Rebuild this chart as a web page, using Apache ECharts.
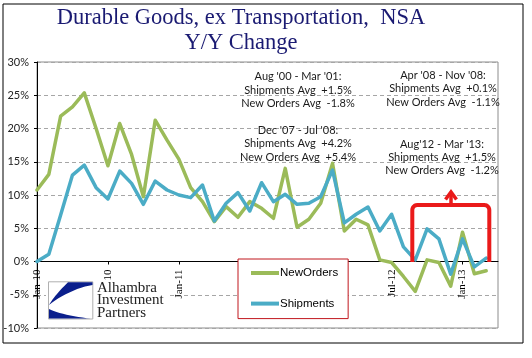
<!DOCTYPE html>
<html><head><meta charset="utf-8">
<script src="https://cdn.jsdelivr.net/npm/echarts@6/dist/echarts.min.js"></script>
<style>html,body{margin:0;padding:0;background:#fff}#c{width:532px;height:358px}</style>
</head><body><div id="c"></div>
<script>
const categories = ['Jan-10','Feb-10','Mar-10','Apr-10','May-10','Jun-10','Jul-10','Aug-10','Sep-10','Oct-10','Nov-10','Dec-10',
  'Jan-11','Feb-11','Mar-11','Apr-11','May-11','Jun-11','Jul-11','Aug-11','Sep-11','Oct-11','Nov-11','Dec-11',
  'Jan-12','Feb-12','Mar-12','Apr-12','May-12','Jun-12','Jul-12','Aug-12','Sep-12','Oct-12','Nov-12','Dec-12',
  'Jan-13','Feb-13','Mar-13','Apr-13'];
const newOrders = [10.75,13.1,21.85,23.25,25.35,20.0,14.4,20.75,16.1,9.75,21.25,18.25,15.4,11.1,9.0,6.0,8.25,6.65,9.0,8.0,6.5,14.0,5.15,6.35,8.75,14.75,4.6,6.35,5.5,0.25,-0.15,-2.25,-4.5,0.25,-0.15,-3.7,4.4,-1.85,-1.4];
const shipments = [0,1.1,7,13,14.5,11.1,9.4,13.6,11.75,8.6,12.1,10.75,10,9.6,11.5,6.1,8.75,10.35,7.6,11.85,9,10.1,8.6,8.75,9.75,13.75,5.8,7.1,8.2,4.6,7.1,2.2,0.25,4.9,3.4,-1.9,3.4,-0.8,0.5];
const yMin = -10, yMax = 30, yStep = 5;
const seriesNames = ['NewOrders','Shipments'];
const titleLines = ['Durable Goods, ex Transportation,  NSA','Y/Y Change'];
const notesLeft = ["Aug '00 - Mar '01:","Shipments Avg  +1.5%","New Orders Avg  -1.8%","","Dec '07 - Jul '08:","Shipments Avg  +4.2%","New Orders Avg  +5.4%"];
const notesRight1 = ["Apr '08 - Nov '08:","Shipments Avg  +0.1%","New Orders Avg  -1.1%"];
const notesRight2 = ["Aug'12 - Mar '13:","Shipments Avg  +1.5%","New Orders Avg  -1.2%"];
const logoLines = ['Alhambra','Investment','Partners'];

function bez(p0,p1,p2,p3,n){const o=[];for(let i=0;i<=n;i++){const t=i/n,u=1-t;o.push([u*u*u*p0[0]+3*u*u*t*p1[0]+3*u*t*t*p2[0]+t*t*t*p3[0],u*u*u*p0[1]+3*u*u*t*p1[1]+3*u*t*t*p2[1]+t*t*t*p3[1]]);}return o;}
function arc(cx,cy,r,a0,a1,n){const o=[];for(let i=0;i<=n;i++){const a=a0+(a1-a0)*i/n;o.push([cx+r*Math.cos(a),cy+r*Math.sin(a)]);}return o;}

const W = 532, H = 358;
const grid = {left:37,right:34,top:62,bottom:30};
const gridH = H - grid.top - grid.bottom;
const zeroOffset = -gridH * (0 - yMin) / (yMax - yMin);

const chart = echarts.init(document.getElementById('c'), null, {renderer:'canvas'});
const upperWedge = [[92.5,282.3],[68,282.3]].concat(bez([68,282.3],[60,290],[53,298],[49,305],12)).concat(bez([49,305],[60,296],[78,287],[92.5,285],12).slice(1));
const lowerWedge = [[49,309],[49,318.6],[91,318.6]].concat(bez([91,318.6],[74,317],[57,313],[49,309],12).slice(1));
const red = '#ea1a1a';
const bracket = [[412.3,262]].concat(arc(417.3,210,5,Math.PI,1.5*Math.PI,6)).concat(arc(484.3,210,5,1.5*Math.PI,2*Math.PI,6)).concat([[489.3,262]]);

chart.setOption({
  animation:false,
  backgroundColor:'#fff',
  title:{text:titleLines.join('\n'),left:241,top:6,padding:0,textAlign:'center',
    textStyle:{fontFamily:'Liberation Serif',fontSize:22.5,fontWeight:'normal',color:'#1a1a72',lineHeight:25}},
  grid:{left:grid.left,right:grid.right,top:grid.top,bottom:grid.bottom,show:true,borderColor:'#8c8c8c',borderWidth:1,containLabel:false,outerBoundsMode:'none'},
  legend:{data:seriesNames,orient:'vertical',left:238,top:259,padding:[7,10,8,13],itemGap:16.6,
    itemWidth:28,itemHeight:4,icon:'rect',backgroundColor:'#fff',borderColor:'#c0161c',borderWidth:1,
    textStyle:{fontFamily:'Liberation Sans',fontSize:11.5,color:'#000',lineHeight:14,padding:[0,0,0,-4]}},
  xAxis:{type:'category',data:categories,boundaryGap:false,position:'bottom',offset:zeroOffset,
    axisLine:{onZero:false,lineStyle:{color:'#000',width:1}},
    axisTick:{show:true,interval:5,length:3,lineStyle:{color:'#000'}},
    axisLabel:{interval:5,rotate:90,margin:8,fontFamily:'Liberation Serif',fontSize:11,color:'#000'},
    splitLine:{show:false}},
  yAxis:{type:'value',min:yMin,max:yMax,interval:yStep,
    axisLine:{show:true,lineStyle:{color:'#000',width:1}},
    axisTick:{show:true,length:3,lineStyle:{color:'#000'}},
    axisLabel:{formatter:'{value}%',margin:8,fontFamily:'Lato',fontSize:11,color:'#222'},
    splitLine:{show:true,lineStyle:{color:'#a6a6a6',type:[4,3],width:1}}},
  series:[
    {name:seriesNames[0],type:'line',data:newOrders,symbol:'none',color:'#9bbb59',
      lineStyle:{width:3.5,color:'#9bbb59',cap:'round',join:'round'},z:2},
    {name:seriesNames[1],type:'line',data:shipments,symbol:'none',color:'#4bacc6',
      lineStyle:{width:3.5,color:'#4bacc6',cap:'round',join:'round'},z:3}
  ],
  graphic:[
    {type:'rect',z:100,shape:{x:3,y:4,width:520,height:339},style:{fill:'none',stroke:'#000',lineWidth:1}},
    {type:'text',z:100,style:{x:298,y:70,text:notesLeft.join('\n'),textAlign:'center',fontFamily:'Lato',fontSize:11,lineHeight:13.4,fill:'#1a1a1a'}},
    {type:'text',z:100,style:{x:443,y:68.3,text:notesRight1.join('\n'),textAlign:'center',fontFamily:'Lato',fontSize:11,lineHeight:13.6,fill:'#1a1a1a'}},
    {type:'text',z:100,style:{x:442,y:137.6,text:notesRight2.join('\n'),textAlign:'center',fontFamily:'Lato',fontSize:11,lineHeight:13.2,fill:'#1a1a1a'}},
    {type:'polyline',z:100,shape:{points:bracket},style:{stroke:red,lineWidth:4,fill:'none',lineJoin:'round'}},
    {type:'line',z:100,shape:{x1:451,y1:205,x2:451,y2:192},style:{stroke:red,lineWidth:3.5}},
    {type:'polyline',z:100,shape:{points:[[445.5,199.5],[451,192],[456.5,199.5]]},style:{stroke:red,lineWidth:3.5,fill:'none'}},
    {type:'rect',z:100,shape:{x:46,y:280.5,width:124,height:41},style:{fill:'#fff'}},
    {type:'rect',z:101,shape:{x:48.5,y:281.8,width:44.3,height:37.2},style:{fill:'#fff',stroke:'#b0b0b0',lineWidth:1}},
    {type:'polygon',z:102,shape:{points:upperWedge},style:{fill:'#0b1f8c'}},
    {type:'polygon',z:102,shape:{points:lowerWedge},style:{fill:'#0b1f8c'}},
    {type:'text',z:102,style:{x:97,y:281.5,text:logoLines.join('\n'),fontFamily:'Liberation Serif',fontSize:15,lineHeight:12.5,fill:'#222'}}
  ]
});
</script></body></html>
